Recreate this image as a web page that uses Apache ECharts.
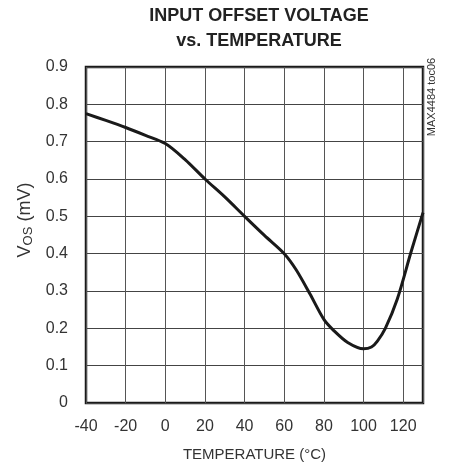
<!DOCTYPE html>
<html>
<head>
<meta charset="utf-8">
<script src="https://cdn.jsdelivr.net/npm/echarts@6/dist/echarts.min.js"></script>
<style>
html,body{margin:0;padding:0;background:#fff;}
#chart{width:451px;height:468px;}
</style>
</head>
<body>
<div id="chart"></div>
<script>
var temperatures = [-40, -30, -20, -10, 0, 10, 20, 30, 40, 50, 60, 66, 73, 80, 85, 92, 100, 104, 107, 111, 117, 124, 130];
var vosValues = [0.775, 0.757, 0.738, 0.717, 0.695, 0.652, 0.600, 0.552, 0.500, 0.449, 0.400, 0.357, 0.292, 0.224, 0.194, 0.162, 0.145, 0.150, 0.166, 0.200, 0.278, 0.405, 0.510];
var titleLines = ['INPUT OFFSET VOLTAGE', 'vs. TEMPERATURE'];
var xAxisName = 'TEMPERATURE (°C)';
var noteText = 'MAX4484 toc06';

var FONT = '"Liberation Sans", Arial, sans-serif';
var chart = echarts.init(document.getElementById('chart'), null, {renderer: 'canvas'});
var data = temperatures.map(function (t, i) { return [t, vosValues[i]]; });

chart.setOption({
  animation: false,
  backgroundColor: '#fff',
  title: {
    text: titleLines.join('\n'),
    left: 254, top: -1,
    textAlign: 'center',
    textStyle: {fontFamily: FONT, fontWeight: 'bold', fontSize: 18, color: '#222', lineHeight: 25}
  },
  graphic: [{
    type: 'text',
    x: 432, y: 97,
    rotation: Math.PI / 2,
    style: {text: noteText, fontFamily: FONT, fontSize: 11, fill: '#333', align: 'center', verticalAlign: 'middle'}
  }],
  grid: {left: 86, right: 28, top: 67, bottom: 65, show: true, borderColor: '#1a1a1a', borderWidth: 2.5, containLabel: false},
  xAxis: {
    type: 'value', min: -40, max: 130, interval: 20,
    name: xAxisName, nameLocation: 'middle', nameGap: 44,
    nameTextStyle: {fontFamily: FONT, fontSize: 15, color: '#333'},
    axisLine: {show: false},
    axisTick: {show: false},
    axisLabel: {fontFamily: FONT, fontSize: 16, color: '#333', margin: 16, showMaxLabel: false},
    splitLine: {show: true, lineStyle: {color: '#555', width: 1}}
  },
  yAxis: {
    type: 'value', min: 0, max: 0.9, interval: 0.1,
    name: '{a|V}{b|OS}{a| (mV)}', nameLocation: 'middle', nameGap: 50, nameRotate: 90,
    nameTextStyle: {
      padding: [0, 0, 0, 30],
      rich: {
        a: {fontFamily: FONT, fontSize: 18, color: '#333'},
        b: {fontFamily: FONT, fontSize: 13, color: '#333', verticalAlign: 'bottom', padding: [7, 0, 0, 0]}
      }
    },
    axisLine: {show: false},
    axisTick: {show: false},
    axisLabel: {fontFamily: FONT, fontSize: 16, color: '#333', margin: 18},
    splitLine: {show: true, lineStyle: {color: '#444', width: 1}}
  },
  series: [{
    type: 'line',
    data: data,
    smooth: 0.3,
    showSymbol: false,
    lineStyle: {color: '#1a1a1a', width: 3},
    z: 3
  }]
});
</script>
</body>
</html>
